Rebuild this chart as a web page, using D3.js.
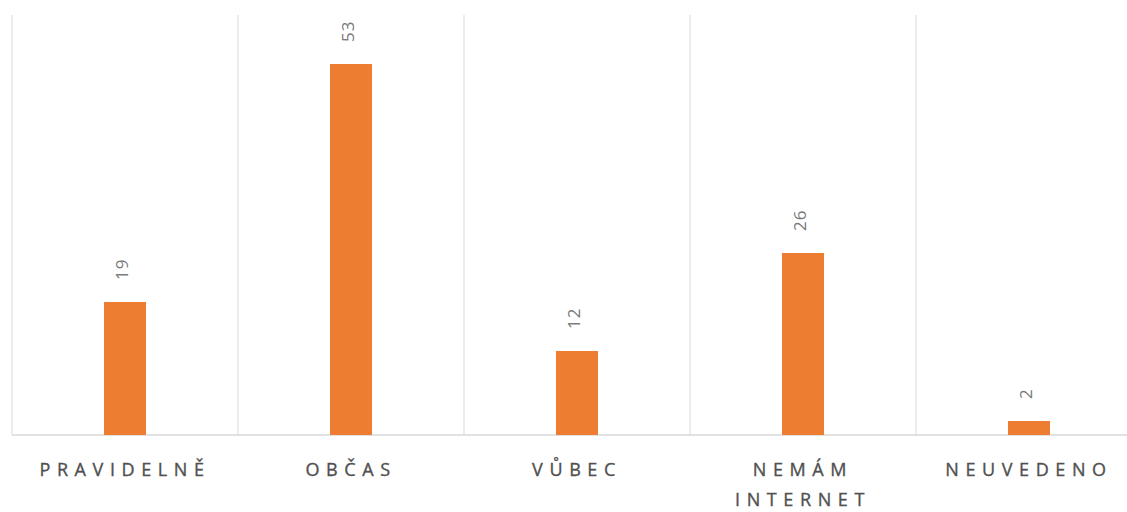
<!DOCTYPE html>
<html><head><meta charset="utf-8">
<script src="https://cdn.jsdelivr.net/npm/d3@7"></script>
<style>body{margin:0;background:#fff}svg{display:block}</style>
</head><body>
<svg id="c" width="1127" height="512"></svg>
<script>
const categories = ["PRAVIDELNĚ", "OBČAS", "VŮBEC", "NEMÁM INTERNET", "NEUVEDENO"];
const categoryLines = [["PRAVIDELNĚ"], ["OBČAS"], ["VŮBEC"], ["NEMÁM", "INTERNET"], ["NEUVEDENO"]];
const values = [19, 53, 12, 26, 2];

(function () {
const svg = d3.select("#c");
const plotLeft = 12, bandW = 226, plotTop = 15, base = 435;
const x = d3.scaleBand().domain(categories).range([plotLeft, plotLeft + bandW * categories.length]).paddingInner(0).paddingOuter(0);
const y = d3.scaleLinear().domain([0, 53]).range([base, 64]);
const barW = 42;

const seps = d3.range(categories.length + 1).map(i => plotLeft + i * x.bandwidth());
svg.selectAll("line.sep").data(seps).join("line")
  .attr("x1", d => d).attr("x2", d => d).attr("y1", plotTop).attr("y2", base)
  .attr("stroke", "#d9d9d9").attr("stroke-width", 1);
svg.append("line").attr("x1", plotLeft).attr("x2", 1127).attr("y1", base).attr("y2", base)
  .attr("stroke", "#d9d9d9").attr("stroke-width", 1.5);

svg.selectAll("rect.bar").data(values).join("rect")
  .attr("x", (d, i) => x(categories[i]) + x.bandwidth() / 2 - barW / 2)
  .attr("y", d => y(d)).attr("width", barW).attr("height", d => base - y(d))
  .attr("fill", "#ED7D31");

svg.selectAll("text.val").data(values).join("text")
  .attr("transform", (d, i) => `translate(${x(categories[i]) + x.bandwidth() / 2 + 3},${y(d) - 22}) rotate(-90)`)
  .attr("font-family", "Open Sans, sans-serif").attr("font-size", 17).attr("fill", "#7a7a7a")
  .attr("letter-spacing", 1)
  .text(d => d);

const g = svg.selectAll("text.cat").data(categoryLines).join("text")
  .attr("x", (d, i) => x(categories[i]) + x.bandwidth() / 2)
  .attr("y", 476)
  .attr("text-anchor", "middle")
  .attr("font-family", "Open Sans, sans-serif").attr("font-size", 18)
  .attr("fill", "#505050").attr("stroke", "#505050").attr("stroke-width", 0.35)
  .attr("letter-spacing", 6.6);
g.selectAll("tspan").data(d => d).join("tspan")
  .attr("x", function () { return d3.select(this.parentNode).attr("x"); })
  .attr("dy", (d, i) => i === 0 ? 0 : 30)
  .text(d => d);
})();
</script>
</body></html>
